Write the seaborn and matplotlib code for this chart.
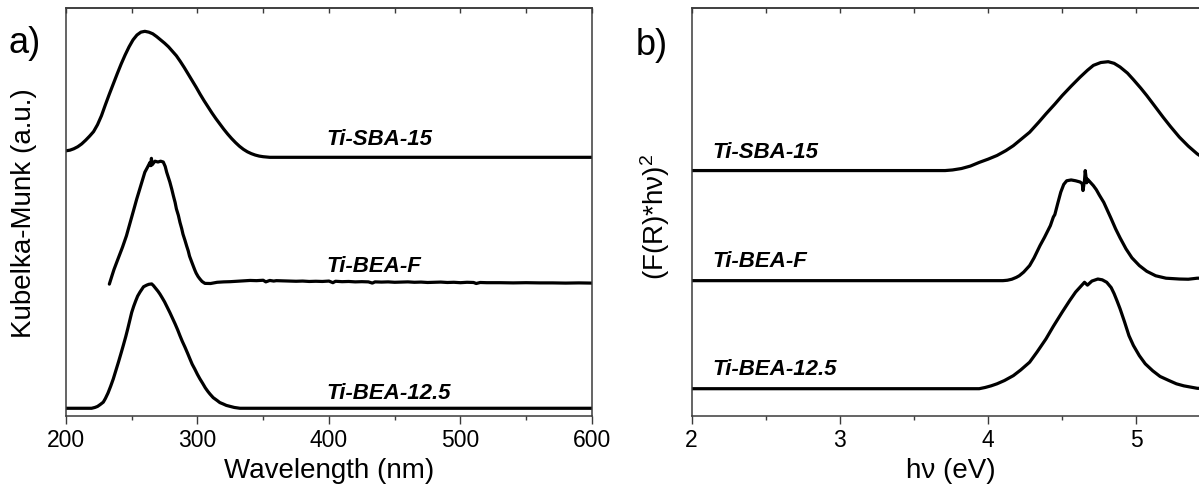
import numpy as np
import pandas as pd
import matplotlib
matplotlib.use("Agg")
import matplotlib.pyplot as plt
import seaborn as sns

# ---------------- a) Kubelka-Munk spectra (wavelength, nm) ----------------
wl_sba15 = [200, 203, 206, 209, 212, 215, 218, 221, 224, 227, 230, 233, 236, 239, 242,
            245, 248, 251, 254, 257, 260, 263, 266, 269, 272, 275, 278, 281, 284, 287,
            290, 293, 296, 299, 302, 305, 308, 311, 314, 317, 320, 323, 326, 329, 332,
            335, 338, 341, 344, 347, 350, 355, 600]
km_sba15 = [1.6, 1.75, 2.1, 2.6, 3.3, 4.2, 5.2, 6.3, 8.0, 10.2, 12.9, 15.5, 18.0, 20.5, 22.9,
            25.1, 27.1, 28.8, 30.0, 30.7, 30.9, 30.7, 30.3, 29.6, 28.8, 28.0, 27.1, 26.0, 24.9, 23.5,
            22.0, 20.4, 18.8, 17.2, 15.5, 13.9, 12.4, 10.9, 9.5, 8.2, 6.9, 5.7, 4.6, 3.6, 2.7,
            1.95, 1.35, 0.9, 0.55, 0.3, 0.15, 0.0, 0.0]

wl_beaf = [233, 235, 236.5, 238.6, 240.5, 243, 244.5, 246, 248, 250, 252, 253.8, 255.5,
           257, 258.5, 260, 262, 263.9, 264.5, 265, 265.5, 266, 267.7, 270, 272, 274,
           275.5, 276.6, 278, 279, 280.5, 281.7, 283, 284, 285.5, 286.7, 288, 289, 290.5,
           291.8, 293, 294, 295.5, 296.8, 298, 299, 300.5, 301.9, 303.5, 305.7, 310,
           315, 320, 325, 330, 335, 340, 345, 350, 352, 355, 358, 360, 365, 370, 375,
           380, 385, 390, 395, 400, 403, 405, 410, 415, 420, 425, 430, 433, 435, 440,
           445, 450, 455, 460, 465, 470, 475, 480, 485, 490, 495, 500, 505, 510, 512,
           515, 520, 530, 540, 550, 560, 570, 580, 590, 600]
km_beaf = [-0.25, 1.8, 3.3, 5.1, 6.7, 8.8, 10.2, 11.6, 13.9, 16.2, 18.5, 20.6, 22.4,
           24.0, 25.6, 27.2, 28.4, 29.6, 28.8, 30.6, 29.0, 29.2, 29.9, 29.7, 29.9, 29.7,
           28.6, 27.2, 25.8, 24.8, 23.0, 21.4, 19.8, 18.2, 16.6, 14.9, 13.4, 12.0, 10.5,
           9.1, 7.9, 6.6, 5.3, 4.2, 3.2, 2.45, 1.6, 1.0, 0.4, -0.07, -0.1,
           0.2, 0.3, 0.35, 0.45, 0.55, 0.65, 0.6, 0.7, 0.3, 0.65, 0.5, 0.6, 0.55, 0.5, 0.45,
           0.5, 0.4, 0.45, 0.4, 0.5, 0.1, 0.45, 0.35, 0.4, 0.3, 0.35, 0.3, 0.0, 0.3, 0.25,
           0.3, 0.2, 0.25, 0.3, 0.2, 0.25, 0.15, 0.2, 0.25, 0.15, 0.2, 0.1, 0.2, 0.15, -0.1,
           0.15, 0.1, 0.1, 0.05, 0.1, 0.05, 0.05, 0.0, 0.05, 0.0]

wl_bea125 = [200, 219.5, 222, 224, 226, 228.4, 230, 232, 234, 236, 238, 240, 242, 243.6,
             245.5, 247, 248.5, 250, 251.5, 253, 254.5, 256.3, 259, 261.4, 263, 265.2,
             266.5, 268, 270, 271.5, 273, 275, 277, 279, 281, 283, 285, 286.7, 288.5,
             290.5, 292.5, 294.3, 296, 298, 300, 301.9, 304, 306, 308, 309.5, 312, 315,
             317, 319.6, 322, 325, 328, 332.3, 600]
km_bea125 = [0.0, 0.0, 0.2, 0.45, 0.9, 1.5, 2.4, 3.75, 5.4, 7.2, 9.3, 11.4, 13.6, 15.4,
             17.6, 19.5, 21.5, 23.5, 25.0, 26.3, 27.5, 28.5, 29.8, 30.2, 30.4, 30.5,
             30.1, 29.5, 28.7, 28.0, 27.2, 26.1, 24.8, 23.5, 22.1, 20.7, 19.2, 17.8, 16.4,
             15.0, 13.5, 12.1, 10.8, 9.6, 8.3, 7.2, 6.1, 5.0, 4.1, 3.5, 2.6, 1.9,
             1.4, 1.05, 0.7, 0.45, 0.2, 0.0, 0.0]

# ---------------- b) Tauc plots (photon energy, eV) ----------------
ev_sba15 = [2.0, 3.71, 3.76, 3.82, 3.88, 3.94, 4.00, 4.06, 4.12, 4.17, 4.22, 4.28, 4.34,
            4.39, 4.45, 4.50, 4.56, 4.62, 4.67, 4.71, 4.76, 4.81, 4.85, 4.89, 4.94, 4.98,
            5.03, 5.07, 5.12, 5.18, 5.23, 5.29, 5.35, 5.41, 5.46, 5.5]
tauc_sba15 = [0.0, 0.0, 0.15, 0.5, 1.1, 2.0, 2.8, 3.7, 4.9, 6.1, 7.6, 9.4, 11.8,
              13.9, 16.3, 18.4, 20.7, 22.9, 24.6, 25.8, 26.5, 26.7, 26.3, 25.4, 23.9, 22.3,
              20.2, 18.4, 16.0, 13.1, 10.8, 8.2, 6.0, 4.1, 2.9, 2.1]

ev_beaf = [2.0, 4.10, 4.13, 4.16, 4.19, 4.21, 4.24, 4.28, 4.31, 4.35, 4.38, 4.42, 4.44,
           4.45, 4.47, 4.49, 4.51, 4.53, 4.56, 4.59, 4.62, 4.635, 4.64, 4.65, 4.655,
           4.665, 4.67, 4.69, 4.71, 4.73, 4.75, 4.78, 4.80, 4.83, 4.86, 4.89, 4.93,
           4.97, 5.02, 5.07, 5.13, 5.20, 5.29, 5.35, 5.41, 5.5]
tauc_beaf = [0.0, 0.0, 0.1, 0.35, 0.8, 1.2, 2.1, 3.7, 5.6, 8.6, 10.6, 13.5, 15.6,
             16.2, 19.0, 21.7, 23.6, 24.5, 24.7, 24.5, 24.2, 23.8, 22.1, 24.5, 27.0,
             24.0, 24.9, 24.1, 23.3, 22.3, 21.0, 19.2, 17.6, 15.2, 12.7, 10.5, 7.8,
             5.6, 3.7, 2.3, 1.2, 0.6, 0.4, 0.35, 0.6, 0.65]

ev_bea125 = [2.0, 3.94, 3.98, 4.02, 4.06, 4.11, 4.17, 4.22, 4.28, 4.33, 4.39, 4.44, 4.50,
             4.55, 4.59, 4.62, 4.65, 4.67, 4.70, 4.74, 4.77, 4.80, 4.83, 4.85, 4.87,
             4.89, 4.92, 4.95, 4.98, 5.02, 5.06, 5.11, 5.16, 5.22, 5.27, 5.32, 5.41, 5.5]
tauc_bea125 = [0.0, 0.0, 0.3, 0.7, 1.2, 2.0, 3.2, 4.6, 6.5, 9.0, 12.2, 15.3, 18.8,
               21.6, 23.7, 24.9, 26.1, 25.4, 26.4, 26.9, 26.7, 26.1, 24.8, 23.3, 21.5,
               19.6, 16.4, 13.0, 10.6, 8.1, 6.1, 4.4, 3.0, 2.0, 1.2, 0.7, 0.1, 0.0]

samples = ["Ti-SBA-15", "Ti-BEA-F", "Ti-BEA-12.5"]
offsets_a = [63.45, 32.6, 1.9]
offsets_b = [60.2, 33.2, 6.7]
label_y_a = [66.7, 35.6, 4.4]
label_y_b = [63.5, 36.8, 10.3]

sns.set_style("white")
plt.rcParams["font.family"] = ["Liberation Sans", "DejaVu Sans"]
plt.rcParams["mathtext.fontset"] = "custom"
plt.rcParams["mathtext.rm"] = "Liberation Sans"
plt.rcParams["mathtext.default"] = "regular"
plt.rcParams["text.color"] = "black"
plt.rcParams["axes.labelcolor"] = "black"
plt.rcParams["xtick.color"] = "black"
plt.rcParams["xtick.labelcolor"] = "black"

SPINE = "#3a3a3a"
fig = plt.figure(figsize=(11.99, 4.89), dpi=100)
ax_a = fig.add_axes([0.0550, 0.1472, 0.4387, 0.8338])
ax_b = fig.add_axes([0.5768, 0.1472, 0.4328, 0.8338])

series_a = [(wl_sba15, km_sba15), (wl_beaf, km_beaf), (wl_bea125, km_bea125)]
series_b = [(ev_sba15, tauc_sba15), (ev_beaf, tauc_beaf), (ev_bea125, tauc_bea125)]

for (x, y), off in zip(series_a, offsets_a):
    df = pd.DataFrame({"x": x, "y": np.asarray(y) + off})
    sns.lineplot(data=df, x="x", y="y", ax=ax_a, color="black", lw=2.3,
                 estimator=None, sort=False)
for (x, y), off in zip(series_b, offsets_b):
    df = pd.DataFrame({"x": x, "y": np.asarray(y) + off})
    sns.lineplot(data=df, x="x", y="y", ax=ax_b, color="black", lw=2.3,
                 estimator=None, sort=False)

for name, ly in zip(samples, label_y_a):
    ax_a.text(398, ly, name, fontsize=16, fontweight="bold", fontstyle="italic",
              va="baseline", ha="left", color="black")
for name, ly in zip(samples, label_y_b):
    ax_b.text(2.14, ly, name, fontsize=16, fontweight="bold", fontstyle="italic",
              va="baseline", ha="left", color="black")


def style_axis(ax, xlim, major, minor, top_ticks, xlabel, ylabel, ylabel_x, ylabel_y):
    ax.set_xlim(*xlim)
    ax.set_ylim(0, 100)
    ax.set_xticks(major)
    ax.set_xticks(minor, minor=True)
    ax.set_yticks([])
    ax.tick_params(axis="x", which="major", direction="out", length=5.8, width=1.0,
                   color=SPINE, labelcolor="black", labelsize=16.5, pad=2.5,
                   top=False, bottom=True)
    ax.tick_params(axis="x", which="minor", direction="out", length=3.0, width=1.0,
                   color=SPINE, top=False, bottom=True)
    for sp in ax.spines.values():
        sp.set_color(SPINE)
        sp.set_linewidth(1.1)
        sp.set_visible(True)
    sec = ax.secondary_xaxis("top")
    sec.set_xticks(top_ticks)
    sec.tick_params(axis="x", direction="in", length=3.6, width=1.0, color=SPINE,
                    labeltop=False)
    sec.spines["top"].set_color(SPINE)
    sec.spines["top"].set_linewidth(1.1)
    ax.set_xlabel(xlabel, fontsize=20, color="black")
    ax.xaxis.set_label_coords(0.5, -0.10)
    ax.xaxis.label.set_va("top")
    ax.set_ylabel(ylabel, fontsize=20, color="black")
    ax.yaxis.set_label_coords(ylabel_x, ylabel_y)


style_axis(ax_a, (200, 600), [200, 300, 400, 500, 600], [250, 350, 450, 550],
           list(range(200, 601, 50)), "Wavelength (nm)", "Kubelka-Munk (a.u.)",
           -0.055, 0.5)
style_axis(ax_b, (2, 5.5), [2, 3, 4, 5], [2.5, 3.5, 4.5],
           [2.0, 2.5, 3.0, 3.5, 4.0, 4.5, 5.0, 5.5], "h\u03bd (eV)",
           "(F(R)*h\u03bd)$^{2}$", -0.038, 0.49)

fig.text(9 / 1199, 1 - 53 / 489, "a)", fontsize=26, va="baseline", ha="left")
fig.text(636 / 1199, 1 - 55 / 489, "b)", fontsize=26, va="baseline", ha="left")

fig.savefig("out.png", dpi=100)
